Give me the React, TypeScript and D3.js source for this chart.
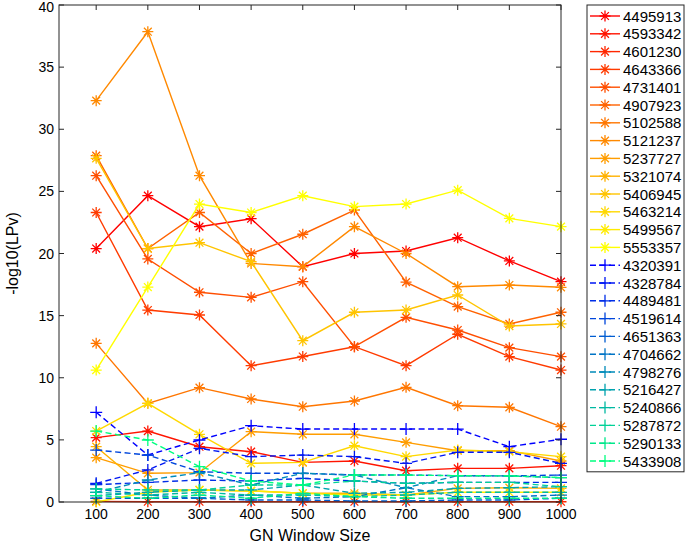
import React from "react";
import * as d3 from "d3";

const xValues = [100, 200, 300, 400, 500, 600, 700, 800, 900, 1000];
const xTicks = [100, 200, 300, 400, 500, 600, 700, 800, 900, 1000];
const yTicks = [0, 5, 10, 15, 20, 25, 30, 35, 40];

const autumnNames = [
  "4495913", "4593342", "4601230", "4643366", "4731401", "4907923", "5102588",
  "5121237", "5237727", "5321074", "5406945", "5463214", "5499567", "5553357",
];
const winterNames = [
  "4320391", "4328784", "4489481", "4519614", "4651363", "4704662",
  "4798276", "5216427", "5240866", "5287872", "5290133", "5433908",
];

const s4495913 = [20.4, 24.65, 22.16, 22.8, 18.94, 20.0, 20.2, 21.27, 19.4, 17.73];
const s4593342 = [5.18, 5.71, 4.45, 4.05, 3.19, 3.3, 2.52, 2.71, 2.71, 2.92];
const s4601230 = [0.05, 0.02, 0.02, 0.02, 0.02, 0.02, 0.02, 0.02, 0.02, 0.02];
const s4643366 = [23.3, 15.45, 15.05, 10.97, 11.71, 12.5, 10.97, 13.5, 11.7, 10.62];
const s4731401 = [26.26, 19.56, 16.88, 16.47, 17.73, 12.5, 14.86, 13.84, 12.42, 11.7];
const s4907923 = [27.87, 20.4, 23.3, 20.0, 21.55, 23.5, 17.7, 15.72, 14.33, 15.27];
const s5102588 = [12.77, 7.94, 9.2, 8.29, 7.67, 8.13, 9.23, 7.75, 7.62, 6.06];
const s5121237 = [32.3, 37.85, 26.26, 19.2, 18.94, 22.16, 20.0, 17.33, 17.46, 17.28];
const s5237727 = [3.57, 2.31, 2.36, 5.66, 5.45, 5.45, 4.8, 4.13, 4.13, 3.3];
const s5321074 = [4.45, 0.97, 0.97, 0.89, 0.7, 0.7, 0.56, 1.1, 1.15, 1.1];
const s5406945 = [27.66, 20.4, 20.87, 19.34, 12.98, 15.27, 15.45, 16.66, 14.16, 14.33];
const s5463214 = [5.71, 7.94, 5.45, 3.11, 3.19, 4.53, 3.65, 4.18, 4.05, 3.65];
const s5499567 = [0.0, 0.78, 0.97, 0.89, 0.7, 0.56, 0.56, 0.78, 0.78, 0.78];
const s5553357 = [10.62, 17.3, 23.98, 23.3, 24.65, 23.77, 23.98, 25.1, 22.83, 22.16];

const s4320391 = [7.22, 3.78, 4.99, 6.14, 5.87, 5.87, 5.87, 5.87, 4.45, 5.05];
const s4328784 = [1.5, 2.58, 4.32, 3.65, 3.78, 3.65, 3.11, 4.0, 4.0, 3.11];
const s4489481 = [1.4, 1.58, 1.77, 1.69, 1.9, 1.69, 1.5, 1.58, 1.58, 1.58];
const s4519614 = [4.18, 3.78, 2.44, 2.31, 2.31, 2.17, 2.17, 2.12, 2.1, 2.17];
const s4651363 = [0.3, 0.3, 0.3, 0.16, 0.16, 0.08, 0.08, 0.16, 0.16, 0.3];
const s4704662 = [1.05, 0.56, 0.3, 0.56, 0.3, 0.43, 1.15, 0.43, 0.43, 0.56];
const s4798276 = [0.78, 1.77, 2.36, 1.37, 2.31, 2.17, 1.15, 2.12, 2.1, 1.96];
const s5216427 = [0.51, 0.78, 0.97, 0.97, 1.37, 0.7, 0.78, 1.1, 1.15, 1.23];
const s5240866 = [0.78, 0.56, 0.78, 0.56, 0.56, 0.43, 0.56, 0.78, 0.78, 0.78];
const s5287872 = [1.05, 0.97, 0.97, 1.37, 1.37, 1.69, 1.5, 1.58, 1.58, 1.23];
const s5290133 = [0.51, 0.3, 0.56, 0.3, 0.7, 0.43, 0.3, 0.3, 0.3, 0.3];
const s5433908 = [5.71, 4.99, 2.84, 1.69, 1.37, 2.17, 2.17, 2.12, 2.1, 1.96];

const autumnValues = [
  s4495913, s4593342, s4601230, s4643366, s4731401, s4907923, s5102588,
  s5121237, s5237727, s5321074, s5406945, s5463214, s5499567, s5553357,
];
const winterValues = [
  s4320391, s4328784, s4489481, s4519614, s4651363, s4704662,
  s4798276, s5216427, s5240866, s5287872, s5290133, s5433908,
];

const W = 685;
const H = 546;
const left = 59;
const right = 561;
const top = 5;
const bottom = 502;

const toHex = (r: number, g: number, b: number) =>
  d3.rgb(Math.round(r * 255), Math.round(g * 255), Math.round(b * 255)).formatHex();

type Series = { name: string; values: number[]; color: string; kind: "star" | "plus" };

const series: Series[] = [
  ...autumnNames.map((name, i) => ({
    name,
    values: autumnValues[i],
    color: toHex(1, i / (autumnNames.length - 1), 0),
    kind: "star" as const,
  })),
  ...winterNames.map((name, i) => {
    const t = i / (winterNames.length - 1);
    return { name, values: winterValues[i], color: toHex(0, t, 1 - 0.5 * t), kind: "plus" as const };
  }),
];

const starPath = "M-5.5,0H5.5M0,-5.5V5.5M-3.9,-3.9L3.9,3.9M-3.9,3.9L3.9,-3.9";
const plusPath = "M-6,0H6M0,-6V6";

export default function App() {
  const x = d3.scaleLinear().domain([28, 1000]).range([left, right]);
  const y = d3.scaleLinear().domain([0, 40]).range([bottom, top]);
  const line = d3
    .line<number>()
    .x((_, i) => x(xValues[i]))
    .y((d) => y(d));

  const font = "Helvetica, Arial, 'Liberation Sans', sans-serif";
  const legX = 587;
  const legTop = 5;
  const rowH = 17.8;
  const legH = series.length * rowH + 4;

  return (
    <svg
      width={W}
      height={H}
      style={{ position: "absolute", left: 0, top: 0, background: "#fff" }}
      fontFamily={font}
    >
      <rect x={0} y={0} width={W} height={H} fill="#fff" />
      {series.map((s) => (
        <g key={s.name}>
          <path
            d={line(s.values) || ""}
            fill="none"
            stroke={s.color}
            strokeWidth={1.4}
            strokeDasharray={s.kind === "plus" ? "6,3.5" : undefined}
          />
          {s.values.map((v, i) => (
            <path
              key={i}
              d={s.kind === "star" ? starPath : plusPath}
              transform={`translate(${x(xValues[i])},${y(v)})`}
              stroke={s.color}
              strokeWidth={1.3}
              fill="none"
            />
          ))}
        </g>
      ))}
      <rect x={left} y={top} width={right - left} height={bottom - top} fill="none" stroke="#262626" strokeWidth={1} />
      {xTicks.map((t) => (
        <g key={`x${t}`}>
          <line x1={x(t)} x2={x(t)} y1={bottom} y2={bottom - 5} stroke="#262626" />
          <line x1={x(t)} x2={x(t)} y1={top} y2={top + 5} stroke="#262626" />
          <text x={x(t)} y={bottom + 17} fontSize={14} textAnchor="middle" fill="#000">
            {t}
          </text>
        </g>
      ))}
      {yTicks.map((t) => (
        <g key={`y${t}`}>
          <line x1={left} x2={left + 5} y1={y(t)} y2={y(t)} stroke="#262626" />
          <line x1={right} x2={right - 5} y1={y(t)} y2={y(t)} stroke="#262626" />
          <text x={left - 5} y={Math.max(y(t) + 5, 12)} fontSize={14} textAnchor="end" fill="#000">
            {t}
          </text>
        </g>
      ))}
      <text x={(left + right) / 2} y={541} fontSize={16} textAnchor="middle" fill="#000">
        GN Window Size
      </text>
      <text
        transform={`translate(18,${(top + bottom) / 2}) rotate(-90)`}
        fontSize={16}
        textAnchor="middle"
        fill="#000"
      >
        -log10(LPv)
      </text>
      <rect x={legX} y={legTop} width={97} height={legH} fill="#fff" stroke="#262626" strokeWidth={1} />
      {series.map((s, i) => {
        const cy = legTop + 11 + i * rowH;
        return (
          <g key={`leg${s.name}`}>
            <line
              x1={590}
              x2={620}
              y1={cy}
              y2={cy}
              stroke={s.color}
              strokeWidth={1.4}
              strokeDasharray={s.kind === "plus" ? "6,3.5" : undefined}
            />
            <path
              d={s.kind === "star" ? starPath : plusPath}
              transform={`translate(605,${cy})`}
              stroke={s.color}
              strokeWidth={1.3}
              fill="none"
            />
            <text x={623} y={cy + 5.5} fontSize={15} fill="#000">
              {s.name}
            </text>
          </g>
        );
      })}
    </svg>
  );
}
